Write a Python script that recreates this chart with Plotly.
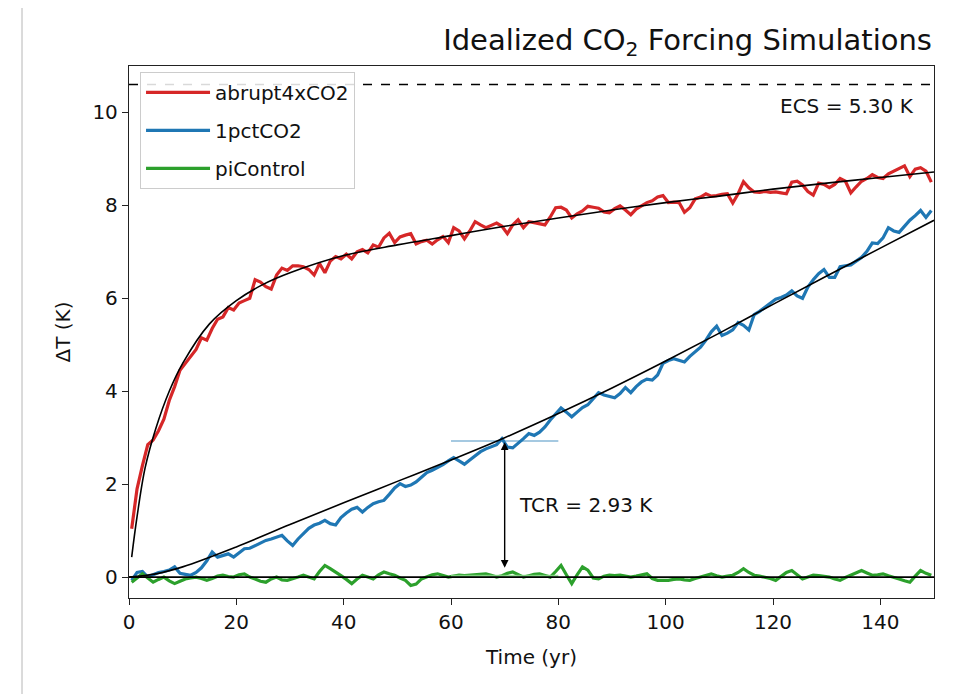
import plotly.graph_objects as go

# ---------------- data ----------------
years = [i + 0.5 for i in range(150)]

abrupt4xCO2 = [
    1.04, 1.90, 2.40, 2.85, 2.95, 3.15, 3.40, 3.80, 4.10, 4.45,
    4.60, 4.75, 4.90, 5.15, 5.10, 5.35, 5.55, 5.60, 5.80, 5.75,
    5.90, 5.95, 6.00, 6.40, 6.35, 6.25, 6.20, 6.50, 6.65, 6.60,
    6.70, 6.70, 6.68, 6.62, 6.50, 6.75, 6.55, 6.80, 6.90, 6.85,
    6.95, 6.85, 7.00, 7.05, 6.98, 7.15, 7.10, 7.30, 7.40, 7.20,
    7.32, 7.36, 7.39, 7.17, 7.22, 7.25, 7.17, 7.26, 7.33, 7.20,
    7.52, 7.45, 7.28, 7.45, 7.65, 7.58, 7.52, 7.57, 7.62, 7.55,
    7.39, 7.58, 7.69, 7.52, 7.65, 7.63, 7.61, 7.58, 7.75, 7.95,
    7.96, 7.90, 7.73, 7.82, 7.88, 7.98, 7.96, 7.94, 7.86, 7.84,
    7.93, 7.99, 7.90, 7.80, 7.92, 7.99, 8.06, 8.10, 8.18, 8.21,
    8.06, 8.07, 8.06, 7.85, 7.95, 8.14, 8.18, 8.25, 8.20, 8.21,
    8.24, 8.25, 8.05, 8.25, 8.51, 8.38, 8.29, 8.28, 8.30, 8.28,
    8.29, 8.27, 8.25, 8.50, 8.52, 8.44, 8.30, 8.22, 8.48, 8.45,
    8.38, 8.45, 8.58, 8.52, 8.27, 8.40, 8.52, 8.58, 8.66, 8.60,
    8.58, 8.68, 8.74, 8.80, 8.85, 8.62, 8.78, 8.81, 8.74, 8.50,
]

onepctCO2 = [
    -0.07, 0.10, 0.12, 0.00, 0.05, 0.10, 0.12, 0.15, 0.22, 0.08,
    0.06, 0.04, 0.10, 0.20, 0.35, 0.54, 0.43, 0.46, 0.50, 0.43,
    0.52, 0.61, 0.62, 0.68, 0.74, 0.79, 0.82, 0.86, 0.90, 0.78,
    0.68, 0.82, 0.94, 1.05, 1.12, 1.16, 1.22, 1.15, 1.12, 1.28,
    1.38, 1.46, 1.50, 1.40, 1.50, 1.58, 1.62, 1.65, 1.78, 1.92,
    2.01, 1.95, 1.98, 2.05, 2.15, 2.25, 2.30, 2.36, 2.42, 2.50,
    2.57, 2.50, 2.43, 2.52, 2.61, 2.70, 2.76, 2.80, 2.85, 2.98,
    2.80, 2.78, 2.87, 2.98, 3.09, 3.05, 3.12, 3.23, 3.38, 3.52,
    3.64, 3.55, 3.45, 3.55, 3.65, 3.71, 3.85, 3.97, 3.92, 3.89,
    3.86, 3.95, 4.08, 3.97, 4.10, 4.20, 4.26, 4.24, 4.35, 4.60,
    4.66, 4.70, 4.66, 4.63, 4.75, 4.85, 4.95, 5.10, 5.28, 5.40,
    5.20, 5.25, 5.32, 5.48, 5.42, 5.32, 5.65, 5.72, 5.80, 5.90,
    5.98, 6.02, 6.07, 6.16, 6.05, 6.00, 6.24, 6.40, 6.53, 6.62,
    6.45, 6.45, 6.68, 6.70, 6.72, 6.80, 6.88, 7.01, 7.19, 7.18,
    7.30, 7.52, 7.45, 7.42, 7.56, 7.68, 7.78, 7.89, 7.74, 7.89,
]

piControl = [
    -0.11, -0.02, 0.07, -0.02, -0.11, -0.05, 0.00, -0.08, -0.14, -0.09,
    -0.04, -0.02, 0.00, -0.03, -0.07, -0.03, 0.02, 0.04, 0.01, 0.00,
    0.05, 0.07, 0.00, -0.04, -0.09, -0.11, -0.04, 0.00, -0.06, -0.07,
    -0.04, 0.00, 0.04, 0.00, -0.04, 0.12, 0.25, 0.18, 0.11, 0.03,
    -0.05, -0.14, -0.04, 0.04, 0.00, -0.04, 0.05, 0.11, 0.07, 0.04,
    -0.02, -0.07, -0.18, -0.15, -0.04, 0.00, 0.05, 0.07, 0.03, 0.00,
    0.02, 0.04, 0.03, 0.04, 0.05, 0.06, 0.07, 0.04, 0.00, 0.03,
    0.08, 0.11, 0.05, 0.00, 0.03, 0.06, 0.07, 0.03, 0.00, 0.12,
    0.25, 0.05, -0.14, 0.05, 0.22, 0.15, -0.02, -0.04, 0.02, 0.04,
    0.03, 0.04, 0.02, 0.00, 0.02, 0.05, 0.07, -0.03, -0.07, -0.07,
    -0.07, -0.05, -0.04, -0.06, -0.07, -0.03, 0.00, 0.04, 0.07, 0.03,
    0.00, 0.02, 0.04, 0.10, 0.18, 0.10, 0.04, 0.02, 0.00, -0.03,
    -0.07, 0.02, 0.10, 0.14, 0.05, -0.04, 0.00, 0.04, 0.03, 0.01,
    0.00, -0.04, -0.07, -0.01, 0.04, 0.09, 0.14, 0.09, 0.04, 0.05,
    0.07, 0.03, 0.00, -0.04, -0.08, -0.11, 0.02, 0.14, 0.08, 0.04,
]

# fitted curves
abrupt_fit_t = [0.5, 1.5, 3, 5, 7.5, 10, 15, 20, 25, 30, 40, 50, 60, 70, 80, 90, 100, 110, 120, 130, 140, 150]
abrupt_fit_v = [0.43, 1.30, 2.35, 3.20, 4.00, 4.60, 5.45, 5.95, 6.30, 6.55, 6.92, 7.15, 7.35, 7.55, 7.73, 7.90, 8.06, 8.20, 8.35, 8.48, 8.60, 8.72]
pct_fit_t = [0, 5, 10, 20, 30, 40, 50, 60, 70, 80, 90, 100, 110, 120, 130, 140, 150]
pct_fit_v = [0.00, 0.07, 0.22, 0.65, 1.13, 1.60, 2.06, 2.52, 3.00, 3.52, 4.07, 4.65, 5.25, 5.87, 6.48, 7.08, 7.68]
ctrl_fit_t = [0, 150]
ctrl_fit_v = [0.0, 0.0]

ECS = 5.30
TCR = 2.93
tcr_window = [60, 80]
ctrl_mean = 0.02

x_ticks = [0, 20, 40, 60, 80, 100, 120, 140]
y_ticks = [0, 2, 4, 6, 8, 10]

RED, BLUE, GREEN = "#d62728", "#1f77b4", "#2ca02c"
FONT = "DejaVu Sans"
FS = 20

fig = go.Figure()

series = [("abrupt4xCO2", abrupt4xCO2, RED), ("1pctCO2", onepctCO2, BLUE), ("piControl", piControl, GREEN)]
for name, vals, col in series:
    fig.add_trace(go.Scatter(x=years, y=vals, mode="lines", name=name, legendgroup=name,
                             line=dict(color=col, width=3.2)))

# highlighted window segments
fig.add_trace(go.Scatter(x=tcr_window, y=[TCR, TCR], mode="lines", showlegend=False,
                         line=dict(color="rgba(31,119,180,0.4)", width=2)))
fig.add_trace(go.Scatter(x=tcr_window, y=[ctrl_mean, ctrl_mean], mode="lines", showlegend=False,
                         line=dict(color="rgba(140,220,140,0.85)", width=3)))

# fits
for ft, fv in [(abrupt_fit_t, abrupt_fit_v), (pct_fit_t, pct_fit_v), (ctrl_fit_t, ctrl_fit_v)]:
    fig.add_trace(go.Scatter(x=ft, y=fv, mode="lines", showlegend=False, line_shape="spline",
                             line=dict(color="black", width=1.6)))

# ECS dashed line
fig.add_trace(go.Scatter(x=[0, 150], y=[2 * ECS, 2 * ECS], mode="lines", showlegend=False,
                         line=dict(color="black", width=1.5, dash="dash")))

fig.add_annotation(x=70, y=TCR - 0.03, ax=70, ay=0.17, xref="x", yref="y", axref="x", ayref="y",
                   text="", showarrow=True, arrowhead=2, startarrowhead=2, arrowside="end+start",
                   arrowwidth=1.4, arrowsize=1.1, startarrowsize=1.1, arrowcolor="black")
fig.add_annotation(x=72.3, y=1.55, xref="x", yref="y", text=f"TCR = {TCR:.2f} K", showarrow=False,
                   xanchor="left", yanchor="middle", font=dict(size=FS, color="#111", family=FONT))
fig.add_annotation(x=146.6, y=10.13, xref="x", yref="y", text=f"ECS = {ECS:.2f} K", showarrow=False,
                   xanchor="right", yanchor="middle", font=dict(size=FS, color="#111", family=FONT))

# outer light frame line (left)
fig.add_shape(type="line", xref="paper", yref="paper", x0=-0.1329, x1=-0.1329, y0=-0.3, y1=1.2,
              line=dict(color="#cfcfcf", width=1.5))

axis_common = dict(showline=True, mirror=True, linecolor="#222", linewidth=1.3, ticks="outside",
                   ticklen=6, tickwidth=1.3, tickcolor="#222", showgrid=False, zeroline=False,
                   tickfont=dict(size=FS, color="#111", family=FONT))

fig.update_layout(
    width=958, height=694,
    margin=dict(l=121, r=32, t=58, b=104),
    paper_bgcolor="white", plot_bgcolor="white",
    font=dict(family=FONT, color="#111"),
    title=dict(text="Idealized CO<sub>2</sub> Forcing Simulations", x=0.9645, xanchor="right",
               xref="container", y=0.954, yanchor="middle", yref="container",
               font=dict(size=29, color="#111", family=FONT)),
    xaxis=dict(range=[0, 150], tickvals=x_ticks, title=dict(text="Time (yr)", font=dict(size=FS), standoff=16),
               **axis_common),
    yaxis=dict(range=[-0.45, 11.0], tickvals=y_ticks, title=dict(text="ΔT (K)", font=dict(size=FS), standoff=16),
               **axis_common),
    legend=dict(x=0.0137, y=0.989, xanchor="left", yanchor="top", bgcolor="rgba(255,255,255,0.85)",
                bordercolor="#cccccc", borderwidth=1, font=dict(size=FS, color="#111", family=FONT),
                itemwidth=64, tracegroupgap=9),
    showlegend=True,
)

fig.write_html("out.html")
